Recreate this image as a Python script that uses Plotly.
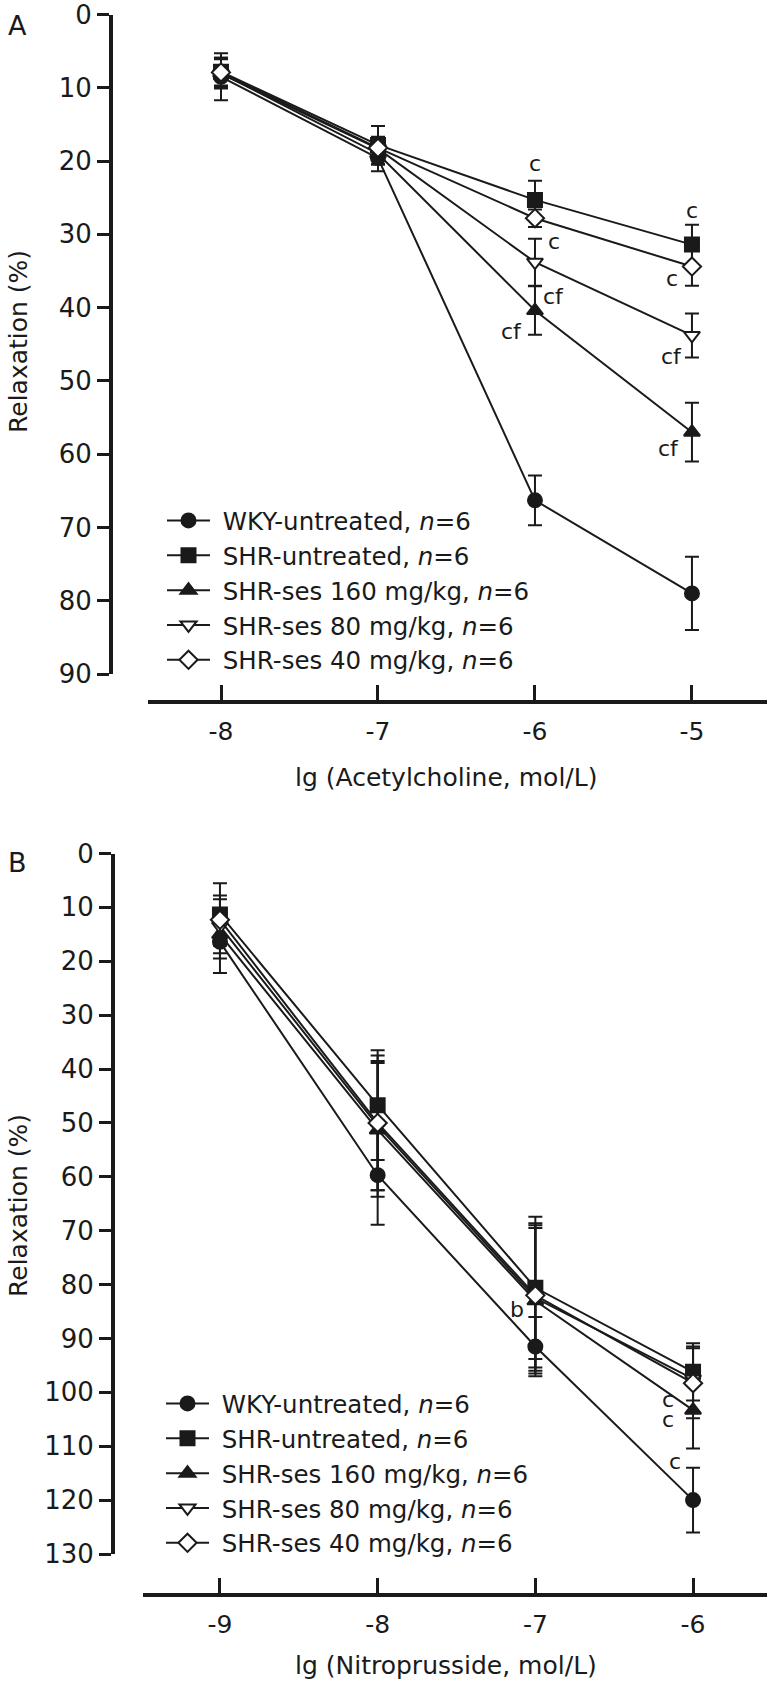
import plotly.graph_objects as go

# ---------------- data ----------------
series_names = ["WKY-untreated, <i>n</i>=6", "SHR-untreated, <i>n</i>=6",
                "SHR-ses 160 mg/kg, <i>n</i>=6", "SHR-ses 80 mg/kg, <i>n</i>=6",
                "SHR-ses 40 mg/kg, <i>n</i>=6"]

# Panel A: acetylcholine
ach_conc = [-8, -7, -6, -5]
ach_ticks = ["-8", "-7", "-6", "-5"]
ach_wky = [8.5, 19.6, 66.3, 79.0]
ach_wky_err = [3.2, 1.8, 3.4, 5.0]
ach_shr = [7.8, 17.8, 25.3, 31.4]
ach_shr_err = [1.9, 2.6, 2.6, 2.7]
ach_s160 = [8.0, 19.0, 40.4, 57.0]
ach_s160_err = [2.0, 1.5, 3.3, 4.0]
ach_s80 = [8.1, 18.3, 33.8, 43.8]
ach_s80_err = [2.0, 1.5, 3.2, 3.0]
ach_s40 = [7.9, 18.2, 27.8, 34.4]
ach_s40_err = [2.0, 1.5, 1.2, 2.6]

ach_sig_text = ["c", "c", "cf", "cf", "c", "c", "cf", "cf"]
ach_sig_x = [-6.0, -5.88, -5.88, -6.15, -5.0, -5.13, -5.13, -5.15]
ach_sig_y = [20.4, 31.0, 38.5, 43.3, 26.7, 36.0, 46.7, 59.2]

# Panel B: nitroprusside
snp_conc = [-9, -8, -7, -6]
snp_ticks = ["-9", "-8", "-7", "-6"]
snp_wky = [16.4, 59.7, 91.5, 120.0]
snp_wky_err = [5.8, 9.2, 5.5, 6.0]
snp_shr = [11.3, 46.7, 80.6, 96.2]
snp_shr_err = [5.8, 10.2, 13.2, 5.3]
snp_s160 = [15.0, 51.3, 83.0, 103.3]
snp_s160_err = [4.5, 12.4, 13.5, 7.1]
snp_s80 = [13.5, 50.5, 82.5, 97.5]
snp_s80_err = [5.0, 12.0, 13.5, 6.0]
snp_s40 = [12.3, 50.0, 82.0, 98.3]
snp_s40_err = [4.5, 12.5, 13.4, 6.5]

snp_sig_text = ["b", "c", "c", "c"]
snp_sig_x = [-7.115, -6.16, -6.16, -6.115]
snp_sig_y = [84.7, 101.4, 105.0, 112.9]

# ---------------- styling ----------------
W, H = 773, 1686
FONT = "DejaVu Sans, Liberation Sans, Arial, sans-serif"
INK = "#1a1a1a"

symbols = ["circle", "square", "triangle-up", "triangle-down", "diamond"]
fills = [INK, INK, INK, "white", "white"]


def px_x(p):
    return min(1.0, p / W)


def px_y(p):
    return 1 - p / H


fig = go.Figure()

panels = [
    ("x", "y", "legend", ach_conc,
     [(ach_wky, ach_wky_err), (ach_shr, ach_shr_err), (ach_s160, ach_s160_err),
      (ach_s80, ach_s80_err), (ach_s40, ach_s40_err)]),
    ("x2", "y2", "legend2", snp_conc,
     [(snp_wky, snp_wky_err), (snp_shr, snp_shr_err), (snp_s160, snp_s160_err),
      (snp_s80, snp_s80_err), (snp_s40, snp_s40_err)]),
]

for xa, ya, leg, xs, groups in panels:
    for i, (vals, errs) in enumerate(groups):
        fig.add_trace(go.Scatter(
            x=xs, y=vals, xaxis=xa, yaxis=ya, legend=leg,
            name="\u00a0" + series_names[i],
            mode="lines+markers",
            line=dict(color=INK, width=2),
            marker=dict(symbol=symbols[i], size=14, color=fills[i],
                        line=dict(color=INK, width=2)),
            error_y=dict(type="data", array=errs, visible=True,
                         color=INK, thickness=2, width=7),
            cliponaxis=False,
        ))

axis_common = dict(showgrid=False, zeroline=False, showline=True, linecolor=INK,
                   linewidth=4, automargin=False, anchor="free",
                   ticklabeloverflow="allow",
                   tickfont=dict(family=FONT, size=25, color=INK))

fig.update_layout(
    width=W, height=H,
    margin=dict(l=0, r=0, t=0, b=0),
    paper_bgcolor="white", plot_bgcolor="rgba(0,0,0,0)",
    font=dict(family=FONT, color=INK),
    xaxis=dict(axis_common, domain=[px_x(148), px_x(767)], range=[-8.465, -4.522],
               position=px_y(702), ticks="inside", ticklen=15, tickwidth=2.5,
               tickcolor=INK, tickvals=ach_conc, ticktext=ach_ticks,
               ticklabelstandoff=6),
    yaxis=dict(axis_common, domain=[px_y(674), px_y(14.5)], range=[90, 0],
               position=px_x(111), ticks="outside", ticklen=12, tickwidth=3,
               tickcolor=INK, tickvals=list(range(0, 91, 10)),
               tickfont=dict(family=FONT, size=26, color=INK)),
    xaxis2=dict(axis_common, domain=[px_x(143), px_x(767)], range=[-9.488, -5.531],
                position=px_y(1595), ticks="inside", ticklen=15, tickwidth=2.5,
                tickcolor=INK, tickvals=snp_conc, ticktext=snp_ticks,
                ticklabelstandoff=6),
    yaxis2=dict(axis_common, domain=[px_y(1554), px_y(853.5)], range=[130, 0],
                position=px_x(113), ticks="outside", ticklen=12, tickwidth=3,
                tickcolor=INK, tickvals=list(range(0, 131, 10)),
                tickfont=dict(family=FONT, size=26, color=INK)),
    legend=dict(x=px_x(162), y=px_y(498), xanchor="left", yanchor="top",
                bgcolor="rgba(0,0,0,0)", font=dict(family=FONT, size=24.5, color=INK),
                itemwidth=43, tracegroupgap=0, traceorder="normal"),
    legend2=dict(x=px_x(161), y=px_y(1381), xanchor="left", yanchor="top",
                 bgcolor="rgba(0,0,0,0)", font=dict(family=FONT, size=24.5, color=INK),
                 itemwidth=43, tracegroupgap=0, traceorder="normal"),
    showlegend=True,
)

ann_font = dict(family=FONT, size=22, color=INK)
annotations = []
for t, x, y in zip(ach_sig_text, ach_sig_x, ach_sig_y):
    annotations.append(dict(text=t, x=x, y=y, xref="x", yref="y", showarrow=False,
                            xanchor="center", yanchor="middle", font=ann_font))
for t, x, y in zip(snp_sig_text, snp_sig_x, snp_sig_y):
    annotations.append(dict(text=t, x=x, y=y, xref="x2", yref="y2", showarrow=False,
                            xanchor="center", yanchor="middle", font=ann_font))


def paper_text(text, x, y, size, angle=0):
    return dict(text=text, x=px_x(x), y=px_y(y), xref="paper", yref="paper",
                showarrow=False, xanchor="center", yanchor="middle", textangle=angle,
                font=dict(family=FONT, size=size, color=INK))


annotations += [
    paper_text("A", 17, 25, 27),
    paper_text("B", 17, 862, 27),
    paper_text("Relaxation (%)", 18, 342, 25, -90),
    paper_text("Relaxation (%)", 18, 1206, 25, -90),
    paper_text("lg (Acetylcholine, mol/L)", 446, 778, 25),
    paper_text("lg (Nitroprusside, mol/L)", 446, 1665, 25),
]
fig.update_layout(annotations=annotations)

fig.write_html(
    "out.html",
    config={"displayModeBar": False},
    post_script="document.body.style.margin='0';document.body.style.overflow='hidden';",
)
